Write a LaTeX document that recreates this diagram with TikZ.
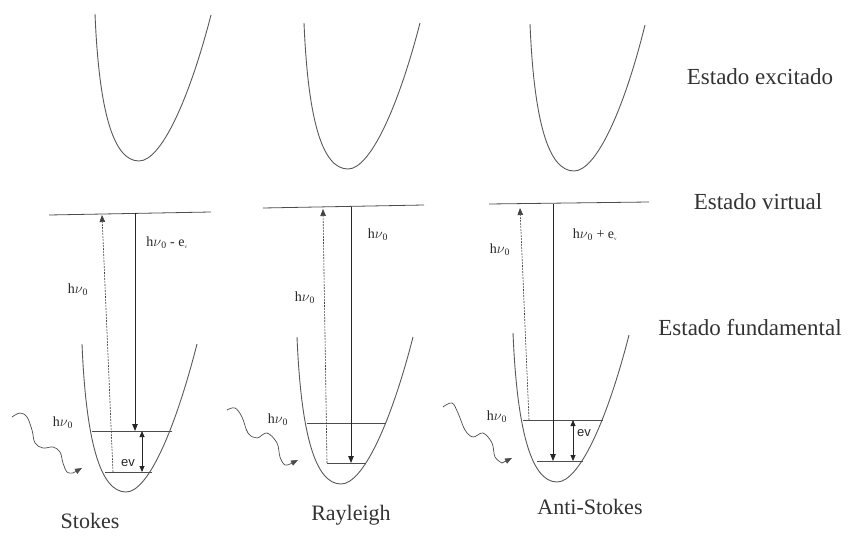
\documentclass[tikz,border=0pt]{standalone}
\usepackage{fontspec}
\setmainfont{Liberation Serif}
\setsansfont{Liberation Sans}
\usepackage{tikz}
\usetikzlibrary{arrows.meta}

\newcommand{\hnuz}{h$\nu$\textsubscript{0}}
\newcommand{\ev}{e\textsubscript{\tiny v}}

\begin{document}
\begin{tikzpicture}[x=1pt,y=-1pt,
  well/.style={draw=black!65, line width=0.9pt},
  level/.style={draw=black!70, line width=0.8pt},
  emit/.style={-{Triangle[length=7pt,width=5.5pt]}, line width=0.8pt, black!85},
  absorb/.style={-{Triangle[length=7pt,width=5.5pt]}, dash pattern=on 2pt off 1pt, line width=0.6pt, black!75},
  gap/.style={{Triangle[length=6pt,width=5pt]}-{Triangle[length=6pt,width=5pt]}, line width=0.8pt, black!85},
  photon/.style={-{Triangle[length=7pt,width=5.5pt]}, black!70, line width=0.7pt},
  state/.style={font=\fontsize{23}{27}\selectfont, text=black!80, inner sep=0pt},
  case/.style={font=\fontsize{22}{26}\selectfont, text=black!80, inner sep=0pt},
  energy/.style={font=\fontsize{14}{16}\selectfont, text=black!85, inner sep=0pt},
  small/.style={font=\sffamily\fontsize{13}{15}\selectfont, text=black!85, inner sep=0pt}
]
\useasboundingbox (0,0) rectangle (850,537);

% excited state wells
\draw[well] (95,14) .. controls (99,110) and (113,161) .. (139,161) .. controls (161,161) and (189,100) .. (211,15);
\draw[well] (304,23) .. controls (308,119) and (322,169) .. (348,169) .. controls (370,169) and (398,108) .. (420,23);
\draw[well] (530,24) .. controls (534,120) and (548,171) .. (574,171) .. controls (596,171) and (624,110) .. (645,25);

% ground state wells
\draw[well] (82,344) .. controls (86,440) and (100,492) .. (126,492) .. controls (148,492) and (175,430) .. (197,344);
\draw[well] (297,337) .. controls (301,433) and (315,484) .. (341,484) .. controls (363,484) and (391,423) .. (413,337);
\draw[well] (513,333) .. controls (517,429) and (531,482) .. (557,482) .. controls (579,482) and (607,421) .. (629,335);

% virtual levels
\draw[level] (49,215) -- (211,212);
\draw[level] (263,208) -- (424,205);
\draw[level] (489,204) -- (649,202);

% vibrational levels
\draw[level] (92,431) -- (172,431);
\draw[level] (105,472) -- (152,472);
\draw[level] (307,423) -- (386,423);
\draw[level] (327,463) -- (366,463);
\draw[level] (523,420) -- (603,420);
\draw[level] (537,461) -- (583,461);

% Stokes
\coordinate (s-lo) at (113,472);
\coordinate (s-vl) at (102,215);
\coordinate (s-vr) at (135,213);
\coordinate (s-hi) at (135,431);
\coordinate (s-g1) at (142,431);
\coordinate (s-g0) at (142,472);
\draw[absorb] (s-lo) -- (s-vl);
\draw[emit] (s-vr) -- (s-hi);
\draw[gap] (s-g1) -- (s-g0);
\coordinate (s-in) at (82,468);
\draw[photon] plot[smooth, tension=0.6] coordinates {(12,417) (20,413) (27,417) (32,430) (35,443) (43,448) (53,447) (60,452) (63,463) (67,472) (73,473)} -- (s-in);
\node[energy] (s-out) at (167,243) {\hnuz\ - \ev};
\node[energy] (s-exc) at (78,290) {\hnuz};
\node[energy] (s-pho) at (63,423) {\hnuz};
\node[small] (s-ev) at (128,463) {ev};
\node[case] (s-name) at (90,521) {Stokes};

% Rayleigh
\coordinate (r-lo) at (327,463);
\coordinate (r-vl) at (323,209);
\coordinate (r-vr) at (351,207);
\coordinate (r-hi) at (351,463);
\draw[absorb] (r-lo) -- (r-vl);
\draw[emit] (r-vr) -- (r-hi);
\coordinate (r-in) at (298,460);
\draw[photon] plot[smooth, tension=0.6] coordinates {(227,410) (235,408) (242,417) (248,433) (257,438) (267,433) (277,443) (280,457) (285,465) (292,463)} -- (r-in);
\node[energy] (r-out) at (378,235) {\hnuz};
\node[energy] (r-exc) at (305,298) {\hnuz};
\node[energy] (r-pho) at (278,420) {\hnuz};
\node[case] (r-name) at (351,515) {Rayleigh};

% Anti-Stokes
\coordinate (a-lo) at (529,420);
\coordinate (a-vl) at (520,208);
\coordinate (a-vr) at (553,204);
\coordinate (a-hi) at (553,461);
\coordinate (a-g1) at (573,420);
\coordinate (a-g0) at (573,461);
\draw[absorb] (a-lo) -- (a-vl);
\draw[emit] (a-vr) -- (a-hi);
\draw[gap] (a-g1) -- (a-g0);
\coordinate (a-in) at (512,458);
\draw[photon] plot[smooth, tension=0.6] coordinates {(443,407) (452,403) (458,413) (465,430) (473,437) (483,433) (492,443) (495,457) (502,463)} -- (a-in);
\node[energy] (a-out) at (595,235) {\hnuz\ + \ev};
\node[energy] (a-exc) at (500,250) {\hnuz};
\node[energy] (a-pho) at (497,417) {\hnuz};
\node[small] (a-ev) at (584,433) {ev};
\node[case] (a-name) at (590,507) {Anti-Stokes};

% state labels
\node[state] (excitado) at (760,77) {Estado excitado};
\node[state] (virtual) at (758,202) {Estado virtual};
\node[state] (fundamental) at (750,328) {Estado fundamental};
\end{tikzpicture}
\end{document}
